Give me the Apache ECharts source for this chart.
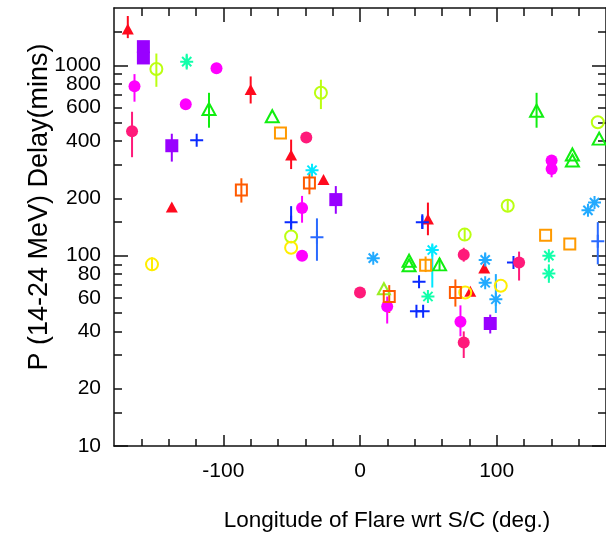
<!DOCTYPE html>
<html>
<head>
<meta charset="utf-8">
<script src="https://cdn.jsdelivr.net/npm/echarts@6/dist/echarts.min.js"></script>
<style>
html,body{margin:0;padding:0;background:#fff;}
#chart{width:606px;height:537px;}
</style>
</head>
<body>
<div id="chart"></div>
<script>
// Each point: [longitude, delay, errLow, errHigh]
const redTriangles = [[-169.9,1552,1389,1815],[-137.7,180],[-80,746,630,874],[-50.4,338,285,407],[-26.7,251],[49.7,156,128,190],[80.7,65],[90.9,86]];
const purpleSquares = [[-158.5,1253],[-158.5,1093],[-137.7,378,312,437],[-17.7,197,166,232],[95.3,44,39,49]];
const limeCircles = [[-149,957,771,1153],[-28.6,717,589,840],[-50.4,126],[76.6,129,120,139],[108.1,183,172,195],[174,502]];
const yellowCircles = [[-152.2,90,83,98],[-50.4,110],[103,69.5],[77,64]];
const greenTriangles = [[-110.5,589,470,717],[-64.2,540],[35.9,94],[35.9,89],[58.2,90,84,97],[129.2,577,470,717],[155.4,340],[155.4,316],[175,412]];
const limeTriangles = [[17.5,67]];
const tealAsterisks = [[-126.8,1045,950,1150],[49.7,61],[138.2,100],[138.2,80.5,72,90]];
const cyanAsterisks = [[-35.1,281],[52.9,107,68,114]];
const lightBlueAsterisks = [[9.7,97],[91.6,95,88,104],[91.6,72],[99.4,59,50,80],[166.8,173],[171.6,190]];
const bluePluses = [[-119.5,404],[-50.4,150,136,182],[45.6,150,138,165],[43.2,73],[41.3,51],[46.2,51],[112.3,92]];
const lightBluePluses = [[-31.5,125,94,157],[174,119,90,150]];
const magentaCircles = [[-165,776,644,899],[-127.5,624],[-105,966],[-42.4,178,149,206],[-42.4,100,95,106],[19.9,54,44,61],[73.5,45,37.7,54.8],[140.2,316],[140.2,285,258,300]];
const pinkCircles = [[-166.8,450,329,570],[-39.3,417],[0,64],[75.9,101,93,110],[75.9,35,29,40],[116.4,92,74,105]];
const orangeRedSquares = [[-86.8,221,190,255],[-37,241,210,272],[21.4,61,50,70],[69.8,64,54,75]];
const orangeSquares = [[-58.2,441],[48,89,82,99],[135.8,128],[153.5,115]];

const xMajor = [-100, 0, 100];
const xMinor = [-160,-140,-120,-80,-60,-40,-20,20,40,60,80,120,140,160];
const yLabels = [10,20,40,60,80,100,200,400,600,800];
const yTopLabel = [1000];
const yMajor = [10,100];
const yTopMajor = [1000];
const yMinor = [15,20,30,40,50,60,70,80,90,150,200,300,400,500,600,700,800,900,1500];

const PLUS = 'path://M0,5H10M5,0V10';
const STAR = 'path://M5,0V10M0,5H10M1.46,1.46L8.54,8.54M1.46,8.54L8.54,1.46';

const groups = [
  {data: redTriangles, color:'#ff0a1e', symbol:'triangle', filled:true, size:[12,11]},
  {data: purpleSquares, color:'#9900ff', symbol:'rect', filled:true, size:13},
  {data: limeCircles, color:'#bbff11', symbol:'circle', filled:false, size:12},
  {data: yellowCircles, color:'#ffee00', symbol:'circle', filled:false, size:12},
  {data: greenTriangles, color:'#11ee11', symbol:'triangle', filled:false, size:[13,12]},
  {data: limeTriangles, color:'#99ee22', symbol:'triangle', filled:false, size:[12,11]},
  {data: tealAsterisks, color:'#11ffaa', symbol:STAR, size:13},
  {data: cyanAsterisks, color:'#00e8ff', symbol:STAR, size:13},
  {data: lightBlueAsterisks, color:'#22aaff', symbol:STAR, size:13},
  {data: bluePluses, color:'#0a2aff', symbol:PLUS, size:13},
  {data: lightBluePluses, color:'#2a6aff', symbol:PLUS, size:13},
  {data: magentaCircles, color:'#ff00ff', symbol:'circle', filled:true, size:12},
  {data: pinkCircles, color:'#ff1a7a', symbol:'circle', filled:true, size:12},
  {data: orangeRedSquares, color:'#ff5a00', symbol:'rect', filled:false, size:11},
  {data: orangeSquares, color:'#ff9a00', symbol:'rect', filled:false, size:11}
];

const series = [];
groups.forEach(function(g){
  series.push({
    type:'custom',
    data: g.data.filter(function(d){return d.length >= 4;}),
    encode:{x:0, y:1},
    renderItem:function(params, api){
      const x = api.value(0);
      const a = api.coord([x, api.value(2)]);
      const b = api.coord([x, api.value(3)]);
      return {type:'line', shape:{x1:a[0], y1:a[1], x2:b[0], y2:b[1]}, style:{stroke:g.color, lineWidth:2}};
    },
    silent:true, z:2
  });
  series.push({
    type:'scatter',
    data: g.data.map(function(d){return [d[0], d[1]];}),
    symbol: g.symbol,
    symbolSize: g.size,
    itemStyle: g.filled ? {color:g.color, opacity:1} : {color:'rgba(0,0,0,0)', borderColor:g.color, borderWidth:2, opacity:1},
    silent:true, z:3
  });
});

const font = 'Liberation Sans';
const ink = '#111';
function plain(v){ return String(Math.round(v)); }
function xAx(pos, showLine, ticks, len, labels, extra){
  return Object.assign({
    type:'value', min:-180, max:180, splitLine:{show:false},
    position: pos,
    axisLine:{show:showLine, onZero:false, lineStyle:{color:ink, width:1.5}},
    axisTick:{show:true, inside:true, length:len, customValues:ticks, lineStyle:{color:ink, width:1.5}},
    axisLabel: labels ? {show:true, customValues:labels, formatter:plain, hideOverlap:false, fontSize:21, color:'#000', fontFamily:font, margin:15} : {show:false}
  }, extra || {});
}
function yAx(pos, showLine, ticks, len, labels, extra){
  return Object.assign({
    type:'log', logBase:10, min:10, max:2000, position:pos, splitLine:{show:false},
    axisLine:{show:showLine, onZero:false, lineStyle:{color:ink, width:1.5}},
    axisTick:{show:true, inside:true, length:len, customValues:ticks, lineStyle:{color:ink, width:1.5}},
    axisLabel: labels ? {show:true, customValues:labels, formatter:plain, hideOverlap:false, fontSize:21, color:'#000', fontFamily:font, margin:13} : {show:false}
  }, extra || {});
}

const option = {
  backgroundColor:'#fff',
  animation:false,
  grid:{left:114, top:8, width:497, height:446},
  xAxis:[
    xAx('bottom', true, xMajor, 11, xMajor, {name:'Longitude of Flare wrt S/C (deg.)', nameLocation:'middle', nameGap:63, nameTextStyle:{fontSize:22.5, color:'#000', fontFamily:font, padding:[0,0,0,54]}}),
    xAx('bottom', false, xMinor, 7, null),
    xAx('top', true, xMajor, 14, null),
    xAx('top', false, xMinor, 8, null)
  ],
  yAxis:[
    yAx('left', true, yMajor, 14, yLabels, {name:'P (14-24 MeV) Delay(mins)', nameLocation:'middle', nameGap:61, nameTextStyle:{fontSize:27, color:'#000', fontFamily:font, padding:[0,0,0,40]}}),
    yAx('left', false, yMinor, 8, null),
    yAx('left', false, yTopMajor, 14, yTopLabel),
    yAx('right', true, yMajor.concat(yTopMajor), 14, null),
    yAx('right', false, yMinor, 8, null)
  ],
  series: series
};

const chart = echarts.init(document.getElementById('chart'), null, {renderer:'canvas'});
chart.setOption(option);
</script>
</body>
</html>
